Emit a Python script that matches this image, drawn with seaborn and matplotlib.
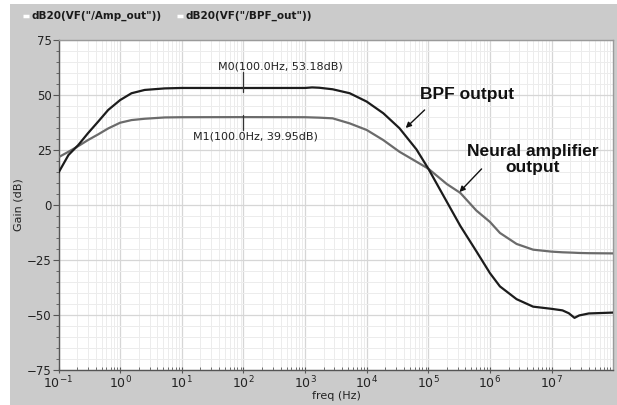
import matplotlib
matplotlib.use("Agg")
import matplotlib.pyplot as plt
import matplotlib.ticker as mticker
from matplotlib.lines import Line2D
from matplotlib.patches import Rectangle
import numpy as np
import pandas as pd
import seaborn as sns

# ---------------- data ----------------
freq = [0.1, 0.145, 0.21, 0.3, 0.44, 0.64, 1.0, 1.53, 2.5, 5.3, 10, 100,
        1000, 1300, 1700, 2800, 5300, 1e4, 1.86e4, 3.4e4, 6.4e4, 1e5, 2e5,
        3.3e5, 6e5, 1e6, 1.45e6, 2.7e6, 5e6, 1e7, 1.5e7, 1.9e7, 2.35e7,
        2.8e7, 4e7, 9.9e7]
bpf_out = [14.7, 22.7, 27.3, 32.6, 37.9, 43.2, 47.7, 50.8, 52.3, 53.0, 53.2,
           53.18, 53.2, 53.45, 53.3, 52.6, 50.8, 47.0, 41.7, 34.9, 25.3, 16.5,
           1.4, -9.5, -21.0, -31.0, -37.0, -42.8, -46.2, -47.2, -47.9, -49.2,
           -51.3, -50.2, -49.3, -48.9]
amp_out = [21.7, 24.2, 26.8, 29.5, 32.1, 34.8, 37.4, 38.6, 39.2, 39.8, 39.9,
           39.95, 39.9, 39.8, 39.7, 39.4, 37.1, 34.1, 29.5, 24.2, 19.7, 16.5,
           9.5, 5.5, -2.5, -7.7, -12.7, -17.7, -20.3, -21.2, -21.5, -21.6,
           -21.7, -21.8, -21.9, -22.0]
trace_names = ['dB20(VF("/Amp_out"))', 'dB20(VF("/BPF_out"))']
marker_names = ["M0", "M1"]
marker_freq = [100.0, 100.0]
marker_vals = [53.18, 39.95]
y_ticks = [-75, -50, -25, 0, 25, 50, 75]
x_ticks = [1e-1, 1e0, 1e1, 1e2, 1e3, 1e4, 1e5, 1e6, 1e7]

df = pd.DataFrame({
    "freq": freq * 2,
    "gain": amp_out + bpf_out,
    "trace": [trace_names[0]] * len(freq) + [trace_names[1]] * len(freq),
})

# ---------------- figure ----------------
W, H = 617, 405
fig = plt.figure(figsize=(W / 100, H / 100), dpi=100)
fig.patch.set_facecolor("white")
fig.add_artist(Rectangle((10 / W, 0), (W - 10) / W, (H - 4) / H,
                         transform=fig.transFigure, facecolor="#cbcbcb",
                         edgecolor="none", zorder=-10))

ax = fig.add_axes([58.5 / W, 1 - 370 / H, (613 - 58.5) / W, 330 / H])
sns.set_style("white")
plt.rcParams["font.family"] = ["DejaVu Sans"]
ax.set_facecolor("white")

palette = {trace_names[0]: "#6b6b6b", trace_names[1]: "#1c1c1c"}
sns.lineplot(data=df, x="freq", y="gain", hue="trace", palette=palette,
             estimator=None, legend=False, linewidth=1.6, ax=ax, zorder=3)

ax.set_xscale("log")
ax.set_xlim(0.1, 9.9e7)
ax.set_ylim(-75, 75)
ax.set_yticks(y_ticks)
ax.yaxis.set_minor_locator(mticker.MultipleLocator(5))
ax.xaxis.set_major_locator(mticker.FixedLocator(x_ticks))
ax.xaxis.set_minor_locator(mticker.LogLocator(base=10, subs=np.arange(2, 10), numticks=20))
ax.xaxis.set_major_formatter(mticker.LogFormatterMathtext())
ax.xaxis.set_minor_formatter(mticker.NullFormatter())

ax.grid(True, which="major", color="#d6d6d6", linewidth=0.9, zorder=0)
ax.grid(True, which="minor", color="#ececec", linewidth=0.7, zorder=0)
ax.set_axisbelow(True)

for s in ["left", "bottom"]:
    ax.spines[s].set_color("#555555")
    ax.spines[s].set_linewidth(1.0)
for s in ["top", "right"]:
    ax.spines[s].set_color("#9a9a9a")
    ax.spines[s].set_linewidth(1.0)

ax.tick_params(axis="y", which="major", direction="out", length=4, width=0.8,
               color="#555555", labelsize=8.5, labelcolor="#222222", pad=1)
ax.tick_params(axis="y", which="minor", direction="out", length=2, width=0.6,
               color="#555555")
ax.tick_params(axis="x", which="major", direction="inout", length=5, width=0.8,
               color="#555555", labelsize=9, labelcolor="#222222", pad=1)
ax.tick_params(axis="x", which="minor", direction="in", length=2.5, width=0.6,
               color="#555555")

ax.set_xlabel("freq (Hz)", fontsize=8, color="#222222")
ax.set_ylabel("Gain (dB)", fontsize=8, color="#222222")
ax.xaxis.set_label_coords(0.502, -0.063)
ax.yaxis.set_label_coords(-0.064, 0.5)

# markers
m_above = [7.5, 1.0]
m_below = [-2.0, -6.0]
for name, mf, mv, up, dn in zip(marker_names, marker_freq, marker_vals, m_above, m_below):
    ax.plot([mf, mf], [mv + dn, mv + up], color="#333333", lw=0.9, zorder=4)
    label = f"{name}({mf:.1f}Hz, {mv:.2f}dB)"
    if name == "M0":
        ax.text(38.5, 63.0, label, fontsize=8, color="#222222", va="center", ha="left")
    else:
        ax.text(15.2, 31.0, label, fontsize=8, color="#222222", va="center", ha="left")

# annotations
bold_font = dict(family=["Liberation Sans", "DejaVu Sans"], weight="bold", size=12.5)
arrow = dict(arrowstyle="-|>", color="#111111", lw=1.0, mutation_scale=8, shrinkA=0, shrinkB=0)
ax.annotate("", xy=(4.29e4, 35.0), xytext=(8.7e4, 43.2), arrowprops=arrow, zorder=5)
ax.text(4.3e5, 50.2, "BPF output", ha="center", va="center", color="#111111", **bold_font)
ax.annotate("", xy=(3.2e5, 5.9), xytext=(7.3e5, 16.4), arrowprops=arrow, zorder=5)
ax.text(4.9e6, 20.7, "Neural amplifier\noutput", ha="center", va="center",
        color="#111111", linespacing=1.05, **bold_font)

# top legend strip
leg_x = [23, 177]
txt_x = [31, 185]
for lx, tx, name in zip(leg_x, txt_x, trace_names):
    fig.add_artist(Line2D([lx / W, (lx + 6) / W], [1 - 16 / H, 1 - 16 / H],
                          transform=fig.transFigure, color="white", lw=2.5,
                          solid_capstyle="butt"))
    fig.text(tx / W, 1 - 16 / H, name, fontsize=7.5, weight="bold",
             color="#1a1a1a", va="center", ha="left", family=["DejaVu Sans"])

fig.savefig("out.png", dpi=100)
